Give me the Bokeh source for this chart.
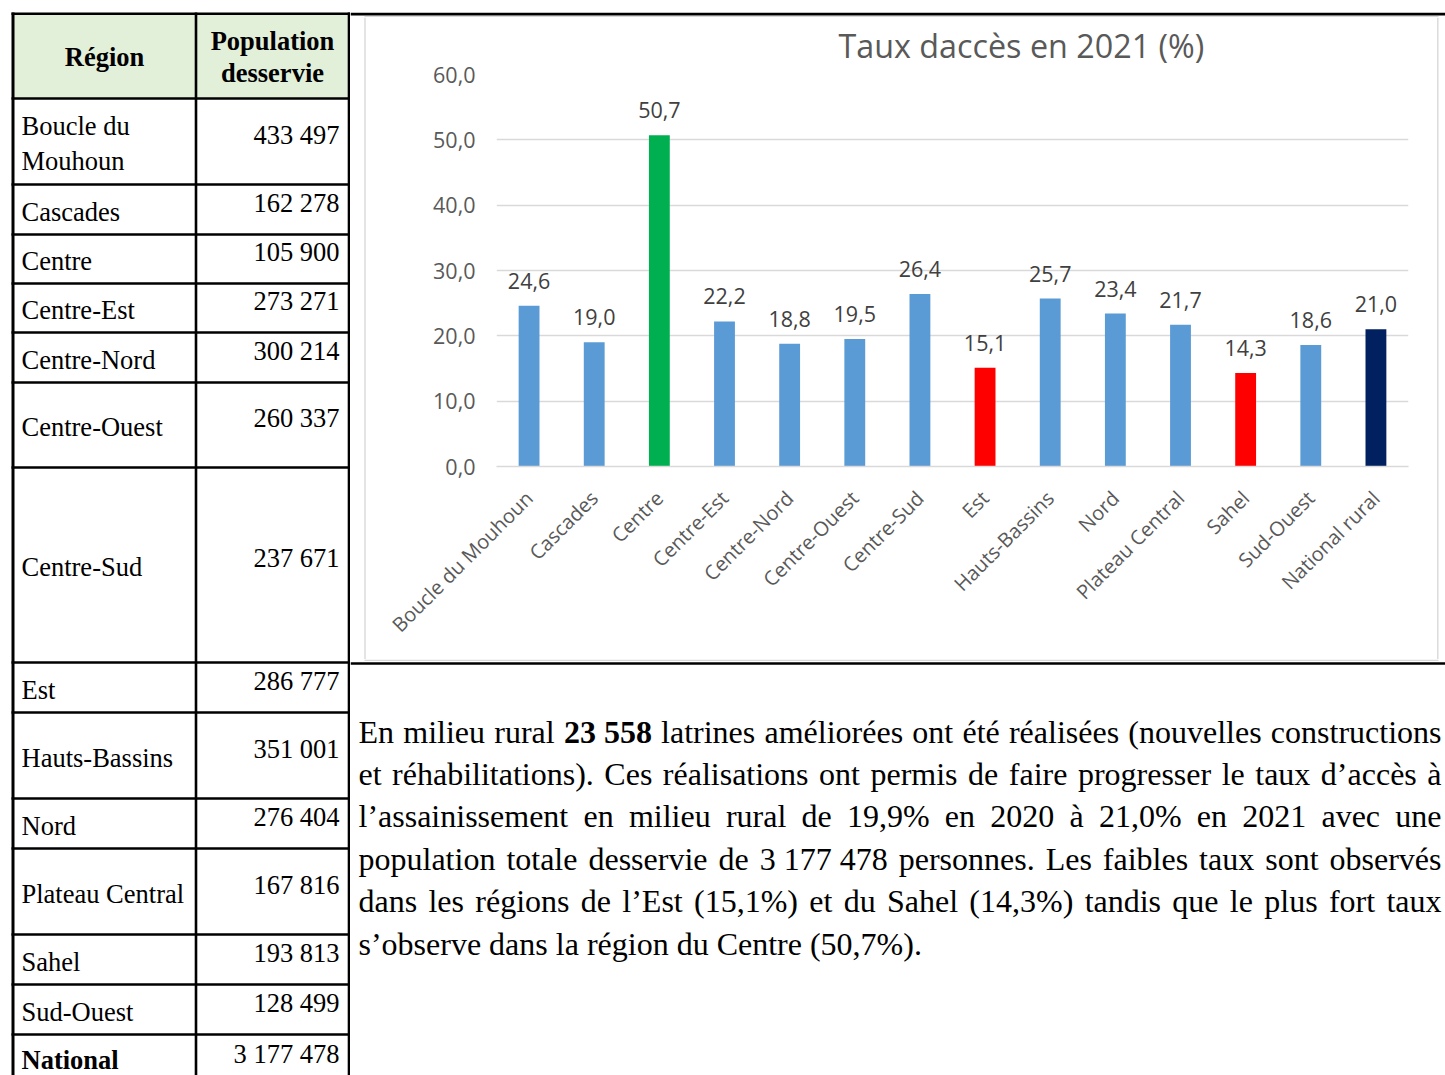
import math
from bokeh.plotting import figure
from bokeh.layouts import row, column
from bokeh.models import ColumnDataSource, FactorRange, Range1d, FixedTicker
from bokeh.core.properties import value
from bokeh.embed import file_html
from bokeh.resources import INLINE

# ---------------- data ----------------
categories = ["Boucle du Mouhoun", "Cascades", "Centre", "Centre-Est", "Centre-Nord",
              "Centre-Ouest", "Centre-Sud", "Est", "Hauts-Bassins", "Nord",
              "Plateau Central", "Sahel", "Sud-Ouest", "National rural"]
taux_acces = [24.6, 19.0, 50.7, 22.2, 18.8, 19.5, 26.4, 15.1, 25.7, 23.4, 21.7, 14.3, 18.6, 21.0]
y_ticks = [0, 10, 20, 30, 40, 50, 60]

table_header = ["Région", "Population\ndesservie"]
table_regions = ["Boucle du Mouhoun", "Cascades", "Centre", "Centre-Est", "Centre-Nord",
                 "Centre-Ouest", "Centre-Sud", "Est", "Hauts-Bassins", "Nord",
                 "Plateau Central", "Sahel", "Sud-Ouest", "National"]
table_population = [433497, 162278, 105900, 273271, 300214, 260337, 237671, 286777,
                    351001, 276404, 167816, 193813, 128499, 3177478]

chart_title = "Taux daccès en 2021 (%)"

paragraph = [
    [("En milieu rural", False), ("23\u00a0558", True),
     ("latrines améliorées ont été réalisées (nouvelles constructions", False)],
    [("et réhabilitations). Ces réalisations ont permis de faire progresser le taux d’accès à", False)],
    [("l’assainissement en milieu rural de 19,9% en 2020 à 21,0% en 2021 avec une", False)],
    [("population totale desservie de 3\u00a0177\u00a0478 personnes. Les faibles taux sont observés", False)],
    [("dans les régions de l’Est (15,1%) et du Sahel (14,3%) tandis que le plus fort taux", False)],
    [("s’observe dans la région du Centre (50,7%).", False)],
]

# ---------------- styles / layout ----------------
BLUE, GREEN, RED, NAVY = "#5b9bd5", "#00b050", "#ff0000", "#002060"
BAR_COLORS = [BLUE, BLUE, GREEN, BLUE, BLUE, BLUE, BLUE, RED, BLUE, BLUE, BLUE, RED, BLUE, NAVY]
ROW_STYLE = ["normal"] * 13 + ["bold"]

SERIF = "Liberation Serif"
SANS = "Open Sans"
GRAY = "#595959"
BORDER = "#d9d9d9"

W_ALL, H_ALL = 1445, 1075
X_SPLIT = 350                     # table | chart+text
CH_L, CH_R, CH_T, CH_B = 366, 1436, 17, 659   # chart figure box
ROW_BOUNDS = [13, 98, 184, 234, 283, 332, 382, 467, 662, 712, 798, 848, 934, 984, 1034, 1086]
COL_X = [12.5, 195.5, 348.5]
TABLE_FS = 26.5
PAR_FS = 32
PAR_LEFT, PAR_RIGHT = 358, 1441
PAR_Y0, PAR_DY = 731, 42.4

# Times metrics (per 1000 em)
TW = {' ': 250, '\u00a0': 250, '!': 333, '%': 833, '(': 333, ')': 333, ',': 250, '-': 333,
      '.': 250, ':': 278, ';': 278, "'": 180, '’': 333}
for d in "0123456789":
    TW[d] = 500
TW.update({'A': 722, 'B': 667, 'C': 667, 'D': 722, 'E': 611, 'F': 556, 'G': 722, 'H': 722,
           'I': 333, 'J': 389, 'K': 722, 'L': 611, 'M': 889, 'N': 722, 'O': 722, 'P': 556,
           'Q': 722, 'R': 667, 'S': 556, 'T': 611, 'U': 722, 'V': 722, 'W': 944, 'X': 722,
           'Y': 722, 'Z': 611,
           'a': 444, 'b': 500, 'c': 444, 'd': 500, 'e': 444, 'f': 333, 'g': 500, 'h': 500,
           'i': 278, 'j': 278, 'k': 500, 'l': 278, 'm': 778, 'n': 500, 'o': 500, 'p': 500,
           'q': 500, 'r': 333, 's': 389, 't': 278, 'u': 500, 'v': 500, 'w': 722, 'x': 500,
           'y': 500, 'z': 444, 'é': 444, 'è': 444, 'ê': 444, 'à': 444, 'â': 444, 'ç': 444,
           'ô': 500, 'î': 278, 'ù': 500, 'û': 500})


def tw(s, fs):
    return sum(TW.get(c, 500) for c in s) * fs / 1000.0


def wrap(s, fs, maxw):
    lines, cur = [], ""
    for w in s.split(" "):
        cand = (cur + " " + w) if cur else w
        if cur and tw(cand, fs) > maxw:
            lines.append(cur)
            cur = w
        else:
            cur = cand
    lines.append(cur)
    return "\n".join(lines)


def blank(x0, x1, y0, y1):
    f = figure(width=x1 - x0, height=y1 - y0, x_range=Range1d(x0, x1), y_range=Range1d(y1, y0),
               x_axis_location=None, y_axis_location=None, output_backend="svg",
               toolbar_location=None, min_border=0, frame_align=False)
    f.grid.visible = False
    f.outline_line_color = None
    return f


# ---------------- table figure ----------------
t = blank(0, X_SPLIT, 0, H_ALL)
t.quad(left=COL_X[0], right=COL_X[2], top=ROW_BOUNDS[0], bottom=ROW_BOUNDS[1],
       fill_color="#e2efd9", line_color=None)
hx0 = [COL_X[0] - 1.5] * len(ROW_BOUNDS)
hx1 = [X_SPLIT] + [COL_X[2] + 1.3] * (len(ROW_BOUNDS) - 1)
ROW_LINES = [ROW_BOUNDS[0] + 0.3] + ROW_BOUNDS[1:]
t.segment(x0=hx0, x1=hx1, y0=ROW_LINES, y1=ROW_LINES, line_color="black", line_width=2.6)
t.segment(x0=COL_X, x1=COL_X, y0=[ROW_BOUNDS[0] - 1] * 3, y1=[H_ALL + 5] * 3,
          line_color="black", line_width=[3, 2.6, 2.6])

hdr_y = (ROW_BOUNDS[0] + ROW_BOUNDS[1]) / 2
t.text(x=[(COL_X[0] + COL_X[1]) / 2, (COL_X[1] + COL_X[2]) / 2], y=[hdr_y + 1, hdr_y + 1],
       text=table_header, text_align="center", text_baseline="middle",
       text_font=value(SERIF), text_font_size=f"{TABLE_FS}px", text_font_style="bold",
       text_line_height=1.07, text_color="black")

centers = [(ROW_BOUNDS[i + 1] + ROW_BOUNDS[i + 2]) / 2 for i in range(len(table_regions))]
names = [wrap(r, TABLE_FS, COL_X[1] - COL_X[0] - 16) for r in table_regions]
vals = [f"{v:,}".replace(",", "\u00a0") for v in table_population]
tsrc = ColumnDataSource(dict(
    name=names, val=vals, style=ROW_STYLE,
    yn=[min(c + 2, H_ALL - 16) for c in centers], yv=[c - 7 for c in centers],
    xn=[21] * len(names), xv=[339] * len(names)))
t.text(x="xn", y="yn", text="name", source=tsrc, text_align="left", text_baseline="middle",
       text_font=value(SERIF), text_font_size=f"{TABLE_FS}px", text_font_style="style",
       text_line_height=1.17, text_color="black")
t.text(x="xv", y="yv", text="val", source=tsrc, text_align="right", text_baseline="middle",
       text_font=value(SERIF), text_font_size=f"{TABLE_FS}px", text_color="black")

# ---------------- frame pieces around the chart ----------------
top = blank(X_SPLIT, W_ALL, 0, CH_T)
top.segment(x0=[X_SPLIT, CH_L - 2], x1=[W_ALL, CH_R + 2], y0=[13.6, 16.3], y1=[13.6, 16.3],
            line_color=["black", BORDER], line_width=[2.6, 1.4])

lp = blank(X_SPLIT, CH_L, CH_T, CH_B)
lp.segment(x0=[CH_L - 1.5], x1=[CH_L - 1.5], y0=[CH_T], y1=[CH_B], line_color=BORDER, line_width=1.4)

rp = blank(CH_R, W_ALL, CH_T, CH_B)
rp.segment(x0=[CH_R + 1.3], x1=[CH_R + 1.3], y0=[CH_T], y1=[CH_B], line_color=BORDER, line_width=1.4)

# ---------------- chart figure ----------------
FR_L, FR_R, FR_T, FR_B = 496, 1408, 74, 466
p = figure(width=CH_R - CH_L, height=CH_B - CH_T, x_range=FactorRange(factors=categories),
           y_range=Range1d(y_ticks[0], y_ticks[-1]), output_backend="svg", toolbar_location=None,
           min_border_left=FR_L - CH_L, min_border_right=CH_R - FR_R,
           min_border_top=FR_T - CH_T, min_border_bottom=CH_B - FR_B, frame_align=False)
p.outline_line_color = None

p.title.text = chart_title
p.title.align = "left"
p.title.vertical_align = "top"
p.title.offset = 838 - FR_L
p.title.standoff = 11
p.title.text_font = SANS
p.title.text_font_size = "32.3px"
p.title.text_font_style = "normal"
p.title.text_color = GRAY

labels = [f"{v:.1f}".replace(".", ",") for v in taux_acces]
src = ColumnDataSource(dict(cat=categories, val=taux_acces, col=BAR_COLORS, lab=labels))
p.vbar(x="cat", top="val", width=0.32, fill_color="col", line_color=None, source=src)
p.text(x="cat", y="val", text="lab", source=src, text_align="center",
       text_baseline="alphabetic", y_offset=-25, text_font=value(SANS),
       text_font_size="21.5px", text_color="#404040")

p.yaxis.ticker = FixedTicker(ticks=y_ticks)
p.yaxis.major_label_overrides = {k: f"{k:.1f}".replace(".", ",") for k in y_ticks}
p.yaxis.axis_line_color = None
p.yaxis.major_tick_line_color = None
p.yaxis.minor_tick_line_color = None
p.yaxis.major_label_standoff = 15
p.yaxis.major_label_text_font = SANS
p.yaxis.major_label_text_font_size = "21.5px"
p.yaxis.major_label_text_color = GRAY
p.ygrid.grid_line_color = BORDER
p.ygrid.grid_line_width = 1.3
p.xgrid.grid_line_color = None

p.xaxis.axis_line_color = BORDER
p.xaxis.axis_line_width = 1.3
p.xaxis.major_tick_line_color = None
p.xaxis.minor_tick_line_color = None
p.xaxis.major_label_orientation = math.pi / 4
p.xaxis.major_label_standoff = 22
p.xaxis.major_label_text_font = SANS
p.xaxis.major_label_text_font_size = "20px"
p.xaxis.major_label_text_color = GRAY

# ---------------- paragraph figure ----------------
tx = blank(X_SPLIT, W_ALL, CH_B, H_ALL)
tx.segment(x0=[CH_L - 2, X_SPLIT], x1=[CH_R + 2, W_ALL], y0=[CH_B + 0.8, 663.0],
           y1=[CH_B + 0.8, 663.0], line_color=[BORDER, "black"], line_width=[1.4, 2.6])

wx, wy, wt, ws = [], [], [], []
for li, segs in enumerate(paragraph):
    toks = []
    for s, b in segs:
        for w in s.split(" "):
            if w:
                toks.append((w, b))
    widths = [tw(w, PAR_FS) for w, _ in toks]
    last = li == len(paragraph) - 1
    gap = 250 * PAR_FS / 1000 if last else (PAR_RIGHT - PAR_LEFT - sum(widths)) / (len(toks) - 1)
    x = PAR_LEFT
    for (w, b), wd in zip(toks, widths):
        wx.append(x)
        wy.append(PAR_Y0 + li * PAR_DY)
        wt.append(w)
        ws.append("bold" if b else "normal")
        x += wd + gap
psrc = ColumnDataSource(dict(x=wx, y=wy, t=wt, s=ws))
tx.text(x="x", y="y", text="t", source=psrc, text_align="left", text_baseline="middle",
        text_font=value(SERIF), text_font_size=f"{PAR_FS}px", text_font_style="s",
        text_color="black")

layout = row(t, column(top, row(lp, p, rp, spacing=0), tx, spacing=0), spacing=0)
open("out.html", "w").write(file_html(layout, INLINE))
